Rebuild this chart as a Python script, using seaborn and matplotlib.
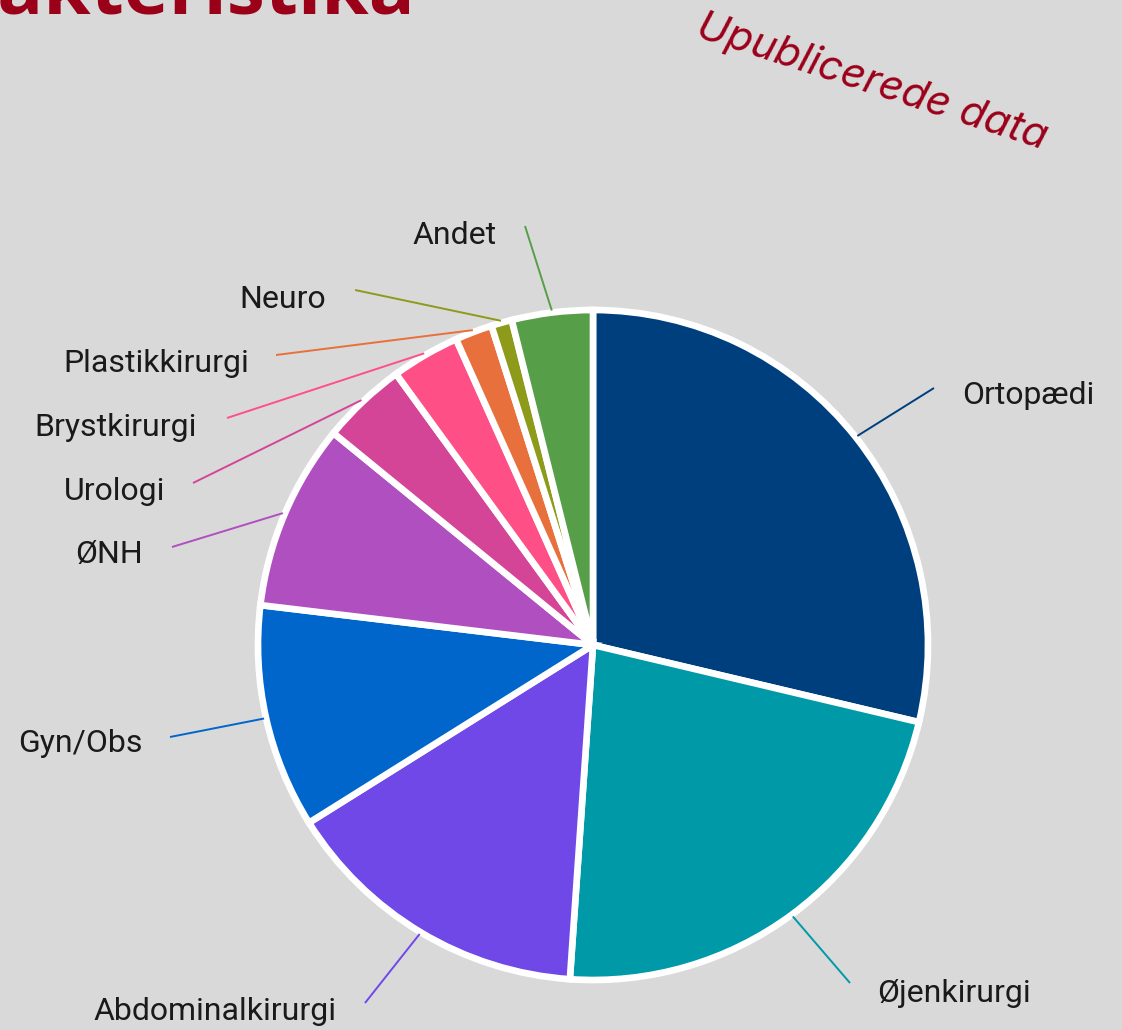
import numpy as np
import matplotlib.pyplot as plt
import seaborn as sns

# share of patients per speciality (percent)
specialities = ['Ortopædi', 'Øjenkirurgi', 'Abdominalkirurgi', 'Gyn/Obs', 'ØNH',
                'Urologi', 'Brystkirurgi', 'Plastikkirurgi', 'Neuro', 'Andet']
shares = [28.7, 22.4, 15.0, 10.8, 9.0, 4.1, 3.3, 1.8, 1.0, 3.9]
slice_colors = ['#003f7d', '#0099a8', '#7048e8', '#0066cc', '#b04fc0',
                '#d44597', '#ff4f87', '#e8703c', '#8e9a19', '#569e48']

# layout in pixels (x from left, y from top): leader end, label anchor, alignment
label_layout = {
    'Ortopædi': ((934, 388), (962, 396), 'left'),
    'Øjenkirurgi': ((850, 983), (877, 993), 'left'),
    'Abdominalkirurgi': ((365, 1003), (337, 1012), 'right'),
    'Gyn/Obs': ((170, 737), (143, 743), 'right'),
    'ØNH': ((172, 547), (143, 555), 'right'),
    'Urologi': ((193, 483), (165, 491), 'right'),
    'Brystkirurgi': ((227, 418), (197, 428), 'right'),
    'Plastikkirurgi': ((276, 355), (249, 363), 'right'),
    'Neuro': ((355, 290), (326, 300), 'right'),
    'Andet': ((525, 226), (497, 236), 'right'),
}

W, H = 1122, 1030
bg = '#d9d9d9'
red = '#9b0019'

sns.set_style('white', {'axes.facecolor': bg, 'figure.facecolor': bg})
plt.rcParams['font.family'] = ['Roboto', 'DejaVu Sans']

fig = plt.figure(figsize=(W / 100, H / 100), dpi=100)
ax = fig.add_axes([0, 0, 1, 1])

center = (593, H - 645)
radius = 335

wedges, _ = ax.pie(shares, colors=slice_colors, startangle=90, counterclock=False,
                   center=center, radius=radius, frame=True,
                   wedgeprops={'edgecolor': 'white', 'linewidth': 4.8})
ax.set_xlim(0, W)
ax.set_ylim(0, H)
ax.set_aspect('equal')
ax.axis('off')

for w, name, col in zip(wedges, specialities, slice_colors):
    mid = np.deg2rad((w.theta1 + w.theta2) / 2)
    x0 = center[0] + (radius + 2) * np.cos(mid)
    y0 = center[1] + (radius + 2) * np.sin(mid)
    (ex, ey), (tx, ty), ha = label_layout[name]
    ax.plot([x0, ex], [y0, H - ey], color=col, lw=1.4, solid_capstyle='butt')
    ax.text(tx, H - ty, name, ha=ha, va='center', fontsize=23, color='#1a1a1a')

# clipped heading and watermark
ax.text(415, H - 14, 'Karakteristika', ha='right', va='baseline', fontsize=55,
        fontweight='bold', color=red, family=['Open Sans', 'DejaVu Sans'])
ax.text(872, H - 82, 'Upublicerede data', ha='center', va='center', fontsize=30,
        rotation=-18, style='italic', color=red, rotation_mode='anchor',
        family=['Inter', 'DejaVu Sans'])

fig.savefig('out.png', dpi=100, facecolor=bg)
